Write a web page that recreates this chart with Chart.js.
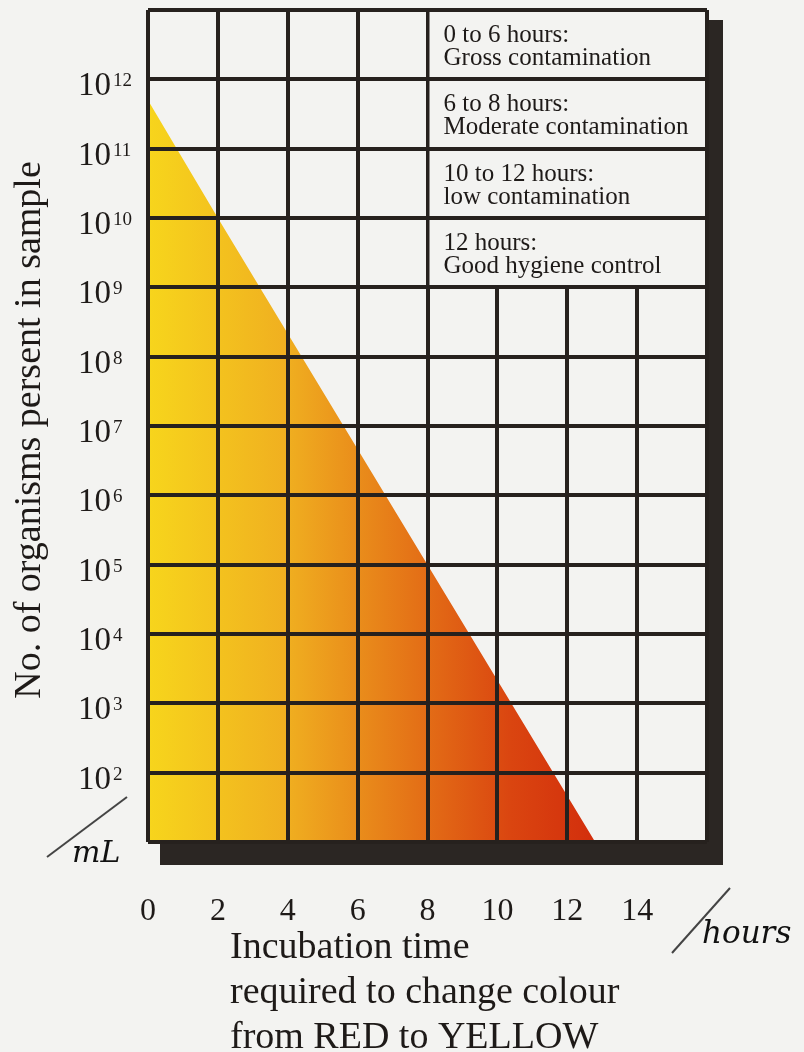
<!DOCTYPE html>
<html><head><meta charset="utf-8">
<script src="https://cdn.jsdelivr.net/npm/chart.js@4.4.1/dist/chart.umd.min.js"></script>
<style>html,body{margin:0;padding:0;background:#f3f3f1;} canvas{display:block;}</style>
</head><body>
<canvas id="c" width="804" height="1052"></canvas>
<script>
// ---- data ----
const hours = [0, 2, 4.4, 8, 12.8];
const organisms = [5e11, 1e10, 1e8, 1e5, 10];
const xTickLabels = [0, 2, 4, 6, 8, 10, 12, 14];
const xGridValues = [0, 2, 4, 6, 8, 10, 12, 14, 16];
const yTickExponents = [2, 3, 4, 5, 6, 7, 8, 9, 10, 11, 12];
const yGridValues = [1e1, 1e2, 1e3, 1e4, 1e5, 1e6, 1e7, 1e8, 1e9, 1e10, 1e11, 1e12, 1e13];
const legendTitles = ["0 to 6 hours:", "6 to 8 hours:", "10 to 12 hours:", "12 hours:"];
const legendTexts = ["Gross contamination", "Moderate contamination", "low contamination", "Good hygiene control"];
const yTitle = "No. of organisms persent in sample";
const xTitleLines = ["Incubation time", "required to change colour", "from RED to YELLOW"];
const yUnit = "mL";
const xUnit = "hours";

const BG = '#f3f3f1';
const INK = '#26211e';
const SERIF = '"Liberation Serif", "DejaVu Serif", serif';

const gradientFill = (context) => {
  const chart = context.chart;
  const a = chart.chartArea;
  if (!a) return '#f0a020';
  const xs = chart.scales.x;
  const g = chart.ctx.createLinearGradient(a.left, 0, xs.getPixelForValue(13), 0);
  g.addColorStop(0, '#f7d51c');
  g.addColorStop(0.3, '#f0b020');
  g.addColorStop(0.55, '#e67a18');
  g.addColorStop(0.8, '#da4510');
  g.addColorStop(1, '#d22c0c');
  return g;
};

const decorPlugin = {
  id: 'decor',
  beforeDraw(chart) {
    const { ctx, chartArea: a } = chart;
    ctx.save();
    ctx.fillStyle = '#2b2623';
    ctx.fillRect(a.left + 12, a.top + 10, (a.right + 16) - (a.left + 12), (a.bottom + 23) - (a.top + 10));
    ctx.fillStyle = BG;
    ctx.fillRect(a.left, a.top, a.width, a.height);
    ctx.restore();
  },
  afterDraw(chart) {
    const { ctx } = chart;
    const xs = chart.scales.x, ys = chart.scales.y;
    ctx.save();
    // legend boxes
    const bx1 = xs.getPixelForValue(8) + 2, bx2 = xs.getPixelForValue(16) - 2;
    for (let i = 0; i < legendTitles.length; i++) {
      const y1 = ys.getPixelForValue(Math.pow(10, 13 - i)) + 1, y2 = ys.getPixelForValue(Math.pow(10, 12 - i)) - 1;
      ctx.fillStyle = BG;
      ctx.fillRect(bx1, y1, bx2 - bx1, y2 - y1);
    }
    ctx.strokeStyle = INK;
    ctx.lineWidth = 4;
    [1e13, 1e12, 1e11, 1e10, 1e9].forEach(v => {
      const y = Math.round(ys.getPixelForValue(v));
      ctx.beginPath(); ctx.moveTo(bx1 - 2, y); ctx.lineTo(bx2 + 2, y); ctx.stroke();
    });
    for (let i = 0; i < legendTitles.length; i++) {
      const y1 = ys.getPixelForValue(Math.pow(10, 13 - i));
      ctx.fillStyle = '#1e1a18';
      ctx.font = '25px ' + SERIF;
      ctx.textAlign = 'left';
      ctx.textBaseline = 'alphabetic';
      ctx.fillText(legendTitles[i], bx1 + 14, y1 + 32);
      ctx.fillText(legendTexts[i], bx1 + 14, y1 + 55);
    }
    // y tick labels
    ctx.fillStyle = '#1e1a18';
    yTickExponents.forEach(e => {
      const y = ys.getPixelForValue(Math.pow(10, e));
      ctx.font = '33px ' + SERIF;
      ctx.textAlign = 'right';
      ctx.fillText('10', 111, y + 16);
      ctx.font = '19px ' + SERIF;
      ctx.textAlign = 'left';
      ctx.fillText(String(e), 113, y + 7);
    });
    // x tick labels
    ctx.font = '32px ' + SERIF;
    ctx.textAlign = 'center';
    xTickLabels.forEach(v => {
      ctx.fillText(String(v), xs.getPixelForValue(v), 920);
    });
    // y title
    ctx.save();
    ctx.translate(40, 430);
    ctx.rotate(-Math.PI / 2);
    ctx.font = '38px ' + SERIF;
    ctx.textAlign = 'center';
    ctx.fillText(yTitle, 0, 0);
    ctx.restore();
    // x title
    ctx.font = '38px ' + SERIF;
    ctx.textAlign = 'left';
    xTitleLines.forEach((t, i) => ctx.fillText(t, 230, 958 + i * 45));
    // handwritten units
    ctx.strokeStyle = '#444';
    ctx.lineWidth = 2;
    ctx.beginPath(); ctx.moveTo(47, 857); ctx.lineTo(127, 797); ctx.stroke();
    ctx.beginPath(); ctx.moveTo(672, 953); ctx.lineTo(730, 888); ctx.stroke();
    ctx.fillStyle = '#111';
    ctx.font = 'italic 30px "DejaVu Serif", serif';
    ctx.textAlign = 'left';
    ctx.fillText(yUnit, 72, 862);
    ctx.font = 'italic 31px "DejaVu Serif", serif';
    ctx.fillText(xUnit, 702, 943);
    ctx.restore();
  }
};

new Chart(document.getElementById('c'), {
  type: 'line',
  data: {
    datasets: [{
      data: hours.map((h, i) => ({ x: h, y: organisms[i] })),
      fill: 'start',
      backgroundColor: gradientFill,
      borderColor: 'rgba(0,0,0,0)',
      borderWidth: 0,
      pointRadius: 0,
      tension: 0
    }]
  },
  options: {
    responsive: false,
    animation: false,
    devicePixelRatio: 1,
    layout: { padding: { left: 148, top: 10, right: 97, bottom: 210 } },
    plugins: { legend: { display: false }, tooltip: { enabled: false } },
    scales: {
      x: {
        type: 'linear', min: 0, max: 16,
        afterBuildTicks: s => { s.ticks = xGridValues.map(v => ({ value: v })); },
        afterFit: s => { s.height = 0; },
        ticks: { display: false },
        grid: { color: INK, lineWidth: 4, drawTicks: false, z: 1 },
        border: { display: false }
      },
      y: {
        type: 'logarithmic', min: 10, max: 1e13,
        afterBuildTicks: s => { s.ticks = yGridValues.map(v => ({ value: v })); },
        afterFit: s => { s.width = 0; },
        ticks: { display: false },
        grid: { color: INK, lineWidth: 4, drawTicks: false, z: 1 },
        border: { display: false }
      }
    }
  },
  plugins: [decorPlugin]
});
</script>
</body></html>
